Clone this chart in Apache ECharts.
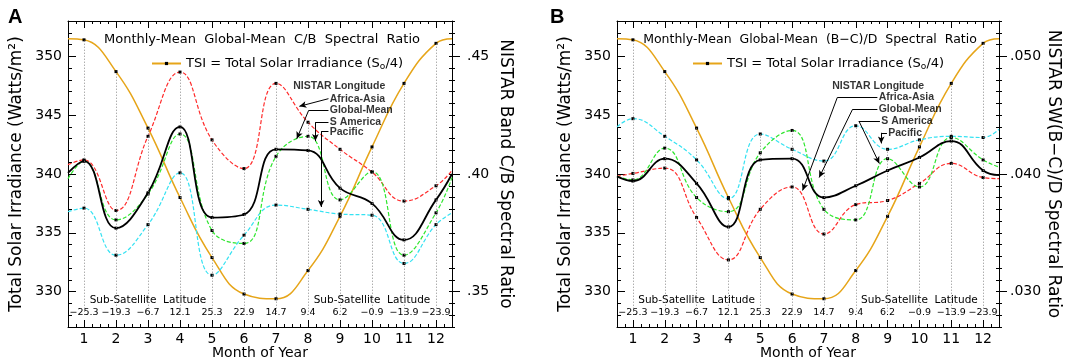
<!DOCTYPE html>
<html>
<head>
<meta charset="utf-8">
<script src="https://cdn.jsdelivr.net/npm/echarts@6/dist/echarts.min.js"></script>
<style>
html, body { margin: 0; padding: 0; background: #fff; }
#chart { width: 1065px; height: 361px; }
</style>
</head>
<body>
<div id="chart"></div>
<script>
// month grid and sub-satellite latitude of NISTAR for each month
const months = [1, 2, 3, 4, 5, 6, 7, 8, 9, 10, 11, 12];
const latitudes = ['−25.3', '−19.3', '−6.7', '12.1', '25.3', '22.9', '14.7', '9.4', '6.2', '−0.9', '−13.9', '−23.9'];
const leftLabels = [330, 335, 340, 345, 350];

// TSI = S0/4, W/m2 (edge values are where the curve meets the frame at month 0.5 / 12.5)
const tsi = [351.4, 348.7, 343.9, 338.0, 332.9, 329.8, 329.4, 331.8, 336.4, 342.3, 347.7, 351.1];
const tsiEdge = [351.5, 351.5];

// panel A: C/B spectral ratio
const africaAsiaA = [0.4060, 0.3845, 0.4160, 0.4433, 0.4145, 0.4023, 0.4385, 0.4220, 0.4105, 0.4008, 0.3885, 0.3950];
const africaAsiaAEdge = [0.4040, 0.4015];
const globalMeanA = [0.4055, 0.3770, 0.3920, 0.4200, 0.3815, 0.3828, 0.4105, 0.4100, 0.3940, 0.3875, 0.3720, 0.3890];
const globalMeanAEdge = [0.4005, 0.4000];
const sAmericaA = [0.4055, 0.3805, 0.3915, 0.4170, 0.3760, 0.3705, 0.4075, 0.4160, 0.3890, 0.4010, 0.3655, 0.3835];
const sAmericaAEdge = [0.3980, 0.3985];
const pacificA = [0.3855, 0.3655, 0.3785, 0.4005, 0.3570, 0.3740, 0.3868, 0.3850, 0.3830, 0.3825, 0.3620, 0.3785];
const pacificAEdge = [0.3840, 0.3835];
const ratioLabelsA = [0.35, 0.40, 0.45];

// panel B: (B-C)/D spectral ratio
const africaAsiaB = [0.04005, 0.0405, 0.0363, 0.0327, 0.0370, 0.0389, 0.0349, 0.0374, 0.03775, 0.0392, 0.0409, 0.0397];
const africaAsiaBEdge = [0.0398, 0.0396];
const globalMeanB = [0.0394, 0.0413, 0.0392, 0.0355, 0.0412, 0.0413, 0.0380, 0.0390, 0.0403, 0.0414, 0.0428, 0.0403];
const globalMeanBEdge = [0.0398, 0.0399];
const sAmericaB = [0.0395, 0.0422, 0.0380, 0.0368, 0.0418, 0.0437, 0.0370, 0.0361, 0.0413, 0.0389, 0.0431, 0.0412];
const sAmericaBEdge = [0.0398, 0.0406];
const pacificB = [0.0447, 0.0432, 0.0412, 0.0379, 0.0434, 0.0421, 0.0411, 0.0441, 0.0421, 0.0429, 0.0432, 0.0431];
const pacificBEdge = [0.0440, 0.0438];
const ratioLabelsB = [0.030, 0.040, 0.050];

const FONT = 'DejaVu Sans';
const INK = '#000';
const TSI_COLOR = '#e6a519';
const RED = '#ff2b2b';
const GREEN = '#2ee62e';
const CYAN = '#35e2f2';
const guideBottom = 328.3;

// label text + where it starts, and leader polylines (month, W/m2)
const notesA = [
    ['NISTAR Longitude', 7.54, 347.5],
    ['Africa-Asia', 8.68, 346.4],
    ['Global-Mean', 8.68, 345.4],
    ['S America', 8.68, 344.4],
    ['Pacific', 8.68, 343.6]
];
const leadersA = [
    [[8.64, 346.4], [7.73, 345.75]],
    [[8.64, 345.4], [8.02, 345.4], [7.65, 343.0]],
    [[8.64, 344.4], [8.23, 344.4], [8.23, 342.8]],
    [[8.64, 343.6], [8.41, 343.6], [8.41, 337.2]]
];
const notesB = [
    ['NISTAR Longitude', 7.26, 347.5],
    ['Africa-Asia', 8.72, 346.5],
    ['Global-Mean', 8.72, 345.5],
    ['S America', 8.8, 344.5],
    ['Pacific', 9.02, 343.45]
];
const leadersB = [
    [[8.68, 346.5], [7.42, 346.5], [6.33, 338.6]],
    [[8.68, 345.5], [7.9, 345.5], [6.85, 339.7]],
    [[8.76, 344.5], [8.1, 344.5], [8.74, 340.9]],
    [[8.98, 343.5], [8.8, 343.5], [8.8, 342.6]]
];

const textStyle = (size, extra) => Object.assign({ color: INK, fontFamily: FONT, fontSize: size }, extra || {});
const tickStyle = { color: INK, width: 1 };

function xAxesFor(grid) {
    const base = {
        gridIndex: grid, type: 'value', min: 0.5, max: 12.5,
        splitLine: { show: false }, axisLine: { show: false },
        axisLabel: { show: false }, axisTick: { show: false }
    };
    return [
        Object.assign({}, base, {
            position: 'bottom', interval: 0.25,
            axisLine: { show: true, lineStyle: tickStyle },
            axisTick: { show: true, inside: true, length: 3, lineStyle: tickStyle },
            axisLabel: Object.assign({ show: true, customValues: months, margin: 5, formatter: v => String(v) }, textStyle(14)),
            name: 'Month of Year', nameLocation: 'middle', nameGap: 19, nameMoveOverlap: false,
            nameTextStyle: textStyle(14)
        }),
        Object.assign({}, base, {
            position: 'bottom',
            axisTick: { show: true, inside: true, length: 7, customValues: months, lineStyle: tickStyle }
        }),
        Object.assign({}, base, {
            position: 'top', interval: 0.25,
            axisLine: { show: true, lineStyle: tickStyle },
            axisTick: { show: true, inside: true, length: 3, lineStyle: tickStyle }
        }),
        Object.assign({}, base, {
            position: 'top',
            axisTick: { show: true, inside: true, length: 7, customValues: months, lineStyle: tickStyle }
        }),
        Object.assign({}, base, {
            position: 'bottom',
            axisLabel: Object.assign({
                show: true, inside: true, customValues: months, margin: 9,
                formatter: v => latitudes[Math.round(v) - 1]
            }, textStyle(9.5))
        }),
        Object.assign({}, base, {
            position: 'bottom',
            axisLabel: Object.assign({
                show: true, inside: true, customValues: [3, 10], margin: 21,
                formatter: () => 'Sub-Satellite  Latitude'
            }, textStyle(10.5))
        })
    ];
}

function yAxesFor(grid, r) {
    const base = {
        gridIndex: grid, type: 'value', splitLine: { show: false },
        axisLine: { show: false }, axisLabel: { show: false }, axisTick: { show: false }
    };
    const left = Object.assign({}, base, { position: 'left', min: 327, max: 353 });
    const right = Object.assign({}, base, { position: 'right', min: r.min, max: r.max });
    return [
        Object.assign({}, left, {
            interval: 1,
            axisLine: { show: true, lineStyle: tickStyle },
            axisTick: { show: true, inside: true, length: 4, lineStyle: tickStyle },
            axisLabel: Object.assign({ show: true, customValues: leftLabels, margin: 6 }, textStyle(14)),
            name: 'Total Solar Irradiance (Watts/m²)', nameLocation: 'middle', nameGap: 43,
            nameRotate: 90, nameTextStyle: textStyle(17)
        }),
        Object.assign({}, left, {
            axisTick: { show: true, inside: true, length: 8, customValues: leftLabels, lineStyle: tickStyle }
        }),
        Object.assign({}, right, {
            interval: r.step,
            axisLine: { show: true, lineStyle: tickStyle },
            axisTick: { show: true, inside: false, length: 3, lineStyle: tickStyle },
            axisLabel: Object.assign({ show: true, customValues: r.labels, margin: r.margin, formatter: r.fmt }, textStyle(14)),
            name: r.name, nameLocation: 'middle', nameGap: r.gap,
            nameRotate: -90, nameTextStyle: textStyle(17)
        }),
        Object.assign({}, right, {
            interval: r.step,
            axisTick: { show: true, inside: true, length: 3, lineStyle: tickStyle }
        }),
        Object.assign({}, right, {
            axisTick: { show: true, inside: false, length: 8, customValues: r.labels, lineStyle: tickStyle }
        })
    ];
}

function withEdges(vals, edge) {
    return [{ value: [0.5, edge[0]], symbol: 'none' }]
        .concat(months.map((m, i) => [m, vals[i]]))
        .concat([{ value: [12.5, edge[1]], symbol: 'none' }]);
}

function curve(name, vals, edge, color, width, dashed, xi, yi, z) {
    return {
        name: name, type: 'line', xAxisIndex: xi, yAxisIndex: yi, z: z,
        data: withEdges(vals, edge),
        smooth: 0.45,
        symbol: 'rect', symbolSize: 3,
        itemStyle: { color: INK },
        lineStyle: { color: color, width: width, type: dashed ? [4, 2] : 'solid' },
        silent: true
    };
}

function noteSeries(xi, yi, notes, leaders) {
    const segs = [];
    leaders.forEach(path => {
        for (let k = 0; k < path.length - 1; k++) {
            segs.push([
                { coord: path[k], symbol: 'none' },
                { coord: path[k + 1], symbol: k === path.length - 2 ? 'arrow' : 'none' }
            ]);
        }
    });
    return {
        type: 'scatter', xAxisIndex: xi, yAxisIndex: yi, symbolSize: 0, silent: true, z: 6,
        data: notes.map(n => ({ value: [n[1], n[2]], name: n[0] })),
        label: {
            show: true, position: 'right', distance: 0, formatter: '{b}',
            color: INK, fontFamily: 'Liberation Sans', fontSize: 10.5, fontWeight: 'bold'
        },
        markLine: {
            silent: true, symbolSize: [5, 7], label: { show: false },
            lineStyle: { color: INK, width: 1, type: 'solid' },
            data: segs
        }
    };
}

function panel(p) {
    const xi = p.grid * 6;
    const yi = p.grid * 5;
    const toLeft = r => 340 + (r - p.mid) / p.perUnit;
    const tops = months.map((m, i) => Math.max(tsi[i], ...p.ratios.map(s => toLeft(s[1][i]))));
    const tsiSeries = curve(p.tsiName, tsi, tsiEdge, TSI_COLOR, 1.5, false, xi, yi, 2);
    tsiSeries.markLine = {
        silent: true, symbol: ['none', 'none'], label: { show: false },
        lineStyle: { color: '#8a8a8a', width: 1, type: [1, 2] },
        data: months.map((m, i) => [{ coord: [m, guideBottom] }, { coord: [m, tops[i]] }])
    };
    const series = [tsiSeries];
    p.ratios.forEach(s => {
        series.push(curve(s[0], s[1], s[2], s[3], s[3] === INK ? 1.8 : 1.2, s[3] !== INK, xi, yi + 2, s[3] === INK ? 4 : 3));
    });
    series.push(noteSeries(xi, yi, p.notes, p.leaders));
    return {
        xAxis: xAxesFor(p.grid),
        yAxis: yAxesFor(p.grid, p.right),
        series: series
    };
}

const pa = panel({
    grid: 0, tsiName: 'tsiA', mid: 0.40, perUnit: 0.005,
    right: {
        min: 0.335, max: 0.465, step: 0.005, labels: ratioLabelsA, margin: 15,
        fmt: v => v.toFixed(2).slice(1), name: 'NISTAR Band C/B Spectral Ratio', gap: 45
    },
    ratios: [
        ['Pacific A', pacificA, pacificAEdge, CYAN],
        ['Africa-Asia A', africaAsiaA, africaAsiaAEdge, RED],
        ['S America A', sAmericaA, sAmericaAEdge, GREEN],
        ['Global-Mean A', globalMeanA, globalMeanAEdge, INK]
    ],
    notes: notesA, leaders: leadersA
});
const pb = panel({
    grid: 1, tsiName: 'tsiB', mid: 0.040, perUnit: 0.001,
    right: {
        min: 0.027, max: 0.053, step: 0.001, labels: ratioLabelsB, margin: 11,
        fmt: v => v.toFixed(3).slice(1), name: 'NISTAR SW(B−C)/D Spectral Ratio', gap: 46
    },
    ratios: [
        ['Pacific B', pacificB, pacificBEdge, CYAN],
        ['Africa-Asia B', africaAsiaB, africaAsiaBEdge, RED],
        ['S America B', sAmericaB, sAmericaBEdge, GREEN],
        ['Global-Mean B', globalMeanB, globalMeanBEdge, INK]
    ],
    notes: notesB, leaders: leadersB
});

const legendFor = (name, left) => ({
    data: [name], left: left, top: 52, itemWidth: 29, itemHeight: 4, selectedMode: false,
    formatter: () => 'TSI = Total Solar Irradiance (S{sub|o}/4)',
    textStyle: textStyle(13, { rich: { sub: { fontFamily: FONT, fontSize: 9, color: INK, verticalAlign: 'bottom', padding: [7, 0, 0, 0] } } })
});

const option = {
    animation: false,
    backgroundColor: '#fff',
    grid: [
        { left: 68, right: 613, top: 21, bottom: 34, outerBoundsMode: 'none' },
        { left: 617, right: 66, top: 21, bottom: 34, outerBoundsMode: 'none' }
    ],
    title: [
        { text: 'A', left: 3, top: 2, textStyle: { color: INK, fontFamily: 'Liberation Sans', fontSize: 20, fontWeight: 'bold' } },
        { text: 'B', left: 545, top: 2, textStyle: { color: INK, fontFamily: 'Liberation Sans', fontSize: 20, fontWeight: 'bold' } },
        { text: 'Monthly-Mean  Global-Mean  C/B  Spectral  Ratio', left: 262, top: 33, textAlign: 'center', padding: 0,
          textStyle: textStyle(13, { fontWeight: 'normal' }) },
        { text: 'Monthly-Mean  Global-Mean  (B−C)/D  Spectral  Ratio', left: 810, top: 33, textAlign: 'center', padding: 0,
          textStyle: textStyle(12.5, { fontWeight: 'normal' }) }
    ],
    legend: [legendFor('tsiA', 146), legendFor('tsiB', 687)],
    xAxis: pa.xAxis.concat(pb.xAxis),
    yAxis: pa.yAxis.concat(pb.yAxis),
    series: pa.series.concat(pb.series)
};

const chart = echarts.init(document.getElementById('chart'));
chart.setOption(option);
</script>
</body>
</html>
